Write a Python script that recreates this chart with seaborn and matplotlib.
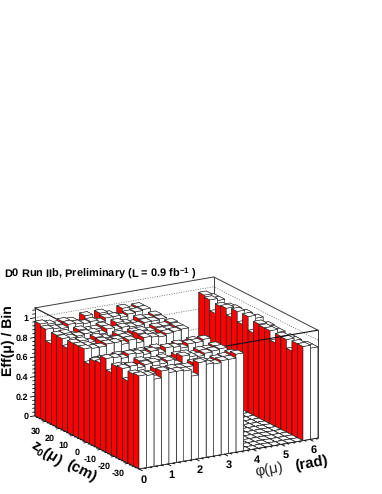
import numpy as np
import seaborn as sns
import matplotlib
matplotlib.use("Agg")
import matplotlib.pyplot as plt
from mpl_toolkits.mplot3d import proj3d

sns.set_theme(style="white")
plt.rcParams["font.family"] = ["Liberation Sans", "DejaVu Sans"]
plt.rcParams["mathtext.default"] = "regular"
plt.rcParams["text.hinting"] = "none"
plt.rcParams["text.hinting_factor"] = 1

# efficiency per z0 bin, listed from z0 = +38 cm down to -38 cm, one list per phi bin
eff_phi_00 = [.965,.94,.82,.936,.93,.86,.94,.94,.94,.81,.87,.88,.955,.84,.93,.94,.84,.94,.95]
eff_phi_01 = [.95,.93,.85,.94,.92,.89,.95,.93,.93,.84,.88,.87,.95,.87,.92,.95,.86,.93,.94]
eff_phi_02 = [.93,.92,.83,.91,.93,.86,.92,.90,.93,.82,.87,.88,.93,.85,.90,.92,.84,.91,.89]
eff_phi_03 = [.95,.95,.85,.95,.94,.88,.96,.95,.95,.84,.89,.90,.96,.86,.95,.94,.86,.95,.96]
eff_phi_04 = [.94,.94,.84,.93,.94,.87,.94,.93,.95,.83,.88,.88,.95,.85,.93,.95,.85,.92,.93]
eff_phi_05 = [.90,.93,.82,.93,.91,.85,.91,.94,.92,.82,.87,.89,.93,.84,.93,.92,.84,.93,.93]
eff_phi_06 = [.97,.94,.86,.95,.95,.88,.95,.95,.95,.85,.89,.90,.95,.86,.94,.94,.86,.92,.92]
eff_phi_07 = [.90,.92,.83,.89,.93,.84,.92,.88,.91,.82,.85,.88,.92,.82,.90,.89,.82,.92,.855]
eff_phi_08 = [.97,.95,.86,.96,.94,.89,.95,.96,.95,.85,.90,.89,.96,.87,.94,.96,.87,.95,.98]
eff_phi_09 = [.94,.95,.85,.94,.93,.87,.95,.94,.94,.84,.88,.89,.95,.86,.94,.94,.86,.95,.95]
eff_phi_10 = [.91,.93,.84,.92,.93,.85,.93,.91,.93,.83,.88,.87,.93,.85,.92,.93,.85,.93,.94]
eff_phi_11 = [.98,.95,.86,.96,.95,.88,.96,.95,.95,.84,.90,.90,.96,.87,.95,.95,.86,.95,.96]
eff_phi_12 = [.95,.96,.85,.95,.95,.87,.96,.95,.96,.84,.89,.90,.96,.86,.95,.96,.87,.96,.96]
eff_phi_13 = [.97,.97,.86,.97,.96,.89,.98,.97,.97,.85,.91,.92,.98,.88,.97,.97,.88,.98,1.0]
eff_gap    = [0.0] * 19   # phi bins 14-21 are empty
eff_phi_22 = [.97,.95,.84,.94,.95,.885,.975,.87,.98,.84,.96,.95,.95,.855,.95,.945,.857,.96,.96]
eff_phi_23 = [.93,.93,.82,.92,.93,.86,.94,.85,.95,.82,.93,.92,.92,.83,.92,.92,.83,.93,.93]

eff_columns = [eff_phi_00, eff_phi_01, eff_phi_02, eff_phi_03, eff_phi_04, eff_phi_05,
               eff_phi_06, eff_phi_07, eff_phi_08, eff_phi_09, eff_phi_10, eff_phi_11,
               eff_phi_12, eff_phi_13] + [eff_gap] * 8 + [eff_phi_22, eff_phi_23]

phi_edges = np.linspace(0, 2 * np.pi, 25)
z0_edges = np.linspace(38, -38, 20)      # same order as the lists
phi_ticks = [0, 1, 2, 3, 4, 5, 6]
z0_ticks = [-30, -20, -10, 0, 10, 20, 30]
eff_ticks = [0, 0.2, 0.4, 0.6, 0.8, 1]
eff_tick_labels = ["0", "0.2", "0.4", "0.6", "0.8", "1"]
EFF_TOP = 1.1

red, white = sns.color_palette(["#ff0000", "#ffffff"])

W, H = 382, 494
fig = plt.figure(figsize=(W / 100, H / 100), dpi=100)
ax = fig.add_axes([0, 0, 1, W / H], projection="3d", proj_type="ortho", computed_zorder=False)
ax.patch.set_visible(False)
ax.view_init(elev=17.3, azim=-120.2)

# painter's order: far phi columns first, far z0 first inside a column
for i in range(23, -1, -1):
    for j in range(19):
        dz = eff_columns[i][j]
        ax.bar3d(phi_edges[i], z0_edges[j + 1], 0,
                 phi_edges[i + 1] - phi_edges[i], z0_edges[j] - z0_edges[j + 1], dz,
                 color=[white, white, white, white, red, white],
                 edgecolor="#1a1a1a", linewidth=0.4, shade=False,
                 zorder=(24 - i) * 100 + j)

x0, x1, y0, y1 = 0, 2 * np.pi, -38, 38
frame = dict(color="#3a3a3a", linewidth=0.7)
# back walls
ax.plot([x0, x0], [y1, y1], [0, EFF_TOP], zorder=1, **frame)
ax.plot([x0, x1], [y1, y1], [EFF_TOP, EFF_TOP], zorder=1, **frame)
ax.plot([x1, x1], [y1, y1], [0, EFF_TOP], zorder=1, **frame)
ax.plot([x1, x1], [y0, y1], [EFF_TOP, EFF_TOP], zorder=1, **frame)
for e in eff_ticks[1:]:
    ax.plot([x0, x1], [y1, y1], [e, e], zorder=1, color="#555555", linewidth=0.5, linestyle=(0, (1.5, 2)))
    ax.plot([x1, x1], [y0, y1], [e, e], zorder=1, color="#555555", linewidth=0.5, linestyle=(0, (1.5, 2)))
# front top edges: seen across the wall, hidden by the phi < 3.7 block
ax.plot([x0, x1], [y0, y0], [EFF_TOP, EFF_TOP], zorder=1050, color="#111111", linewidth=0.8)
ax.plot([x0, x0], [y0, y1], [EFF_TOP, EFF_TOP], zorder=1050, color="#111111", linewidth=0.8)
ax.plot([x1, x1], [y0, y0], [0, EFF_TOP], zorder=9000, **frame)
ax.plot([x0, x1], [y0, y0], [0, 0], zorder=9000, **frame)
ax.plot([x0, x0], [y0, y1], [0, 0], zorder=9000, **frame)
ax.plot([x0, x0], [y1, y1], [0, EFF_TOP], zorder=9000, **frame)

ax.set_xlim(x0, x1, view_margin=0)
ax.set_ylim(y0, y1, view_margin=0)
ax.set_zlim(0, EFF_TOP, view_margin=0)
ax.set_box_aspect((207, 207, 113))
ax.set_axis_off()

# tick marks
for p in np.arange(0, 6.21, 0.2):
    d = 2.5 if abs(p - round(p)) < 1e-6 else 1.2
    ax.plot([p, p], [y0, y0 - d], [0, 0], color="black", linewidth=0.6, zorder=9001)
for c in np.arange(-36, 36.1, 2):
    d = 0.11 if c % 10 == 0 else 0.05
    ax.plot([x0, x0 - d], [c, c], [0, 0], color="black", linewidth=0.6, zorder=9001)
for e in np.arange(0, 1.101, 0.04):
    d = 0.16 if abs(e * 5 - round(e * 5)) < 1e-6 else 0.08
    ax.plot([x0 - d, x0], [y1, y1], [e, e], color="black", linewidth=0.6, zorder=9001)

def project(x, y, z):
    a, b, _ = proj3d.proj_transform(x, y, z, ax.get_proj())
    return a, b

# place the box: measured corners → target pixels
def corner(x, y, z):
    return ax.transData.transform(project(x, y, z))

fig.canvas.draw()
left, front = corner(x0, y1, 0), corner(x0, y0, 0)
right = corner(x1, y0, 0)
s = (318 - 35) / (right[0] - left[0])
lp = 139 - s * front[0]
bp = (H - 469) - s * front[1]
ax.set_position([lp / W, bp / H, s * W / W, s * W / H])

# tick labels, anchored on projected axis positions
def label_at(x, y, z, text, **kw):
    a, b = project(x, y, z)
    ax.text2D(a, b, text, transform=ax.transData, color="black", fontweight="bold", **kw)

for p in phi_ticks:
    label_at(p + 0.1, y0 - 1, -0.11, str(p), fontsize=7.6, ha="center", va="center")
for c in z0_ticks:
    label_at(x0 - 0.4, c - 1, -0.08, str(c), fontsize=6.3, ha="center", va="center")
for e, lab in zip(eff_ticks, eff_tick_labels):
    label_at(x0 - 0.22, y1, e, lab, fontsize=6.3, ha="right", va="center")

# axis titles
fig.text(4 / W, 1 - 274 / H, r"D0 Run IIb, Preliminary (L = 0.9 fb$^{-1}$ )", fontsize=8.0, fontweight="bold",
         color="black", ha="left", va="center")
fig.text(8 / W, 1 - 341 / H, "Eff(μ) / Bin", rotation=90, fontsize=10, fontweight="bold",
         color="black", ha="center", va="center")
fig.text(46 / W, 1 - 453 / H, r"z$_{0}$(μ)", rotation=-32, fontsize=10.5, fontweight="bold",
         color="black", ha="center", va="center")
fig.text(82 / W, 1 - 471 / H, "(cm)", rotation=-27, fontsize=10.5, fontweight="bold",
         color="black", ha="center", va="center")
fig.text(269 / W, 1 - 470 / H, "φ(μ)", rotation=10, fontsize=10.5, color="#222222", ha="center", va="center")
fig.text(311 / W, 1 - 463 / H, "(rad)", rotation=10, fontsize=10.5, fontweight="bold",
         color="black", ha="center", va="center")

fig.savefig("out.png", dpi=100, facecolor="white")
